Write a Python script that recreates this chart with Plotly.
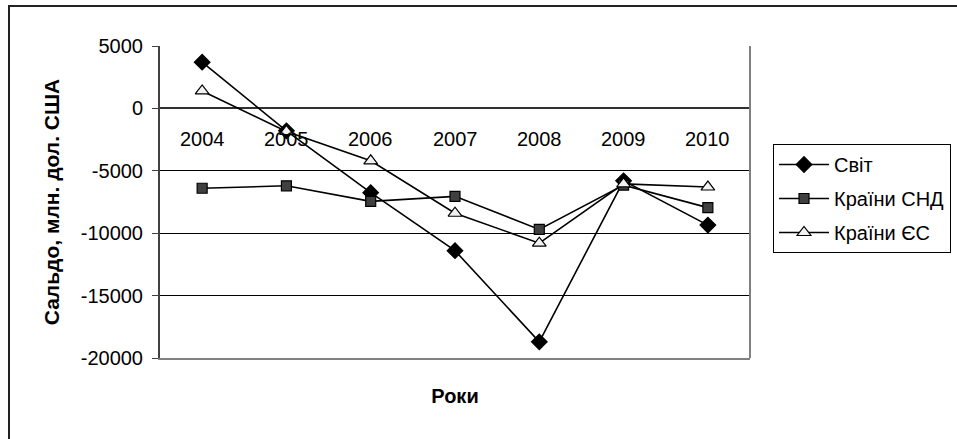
import plotly.graph_objects as go

years = ["2004", "2005", "2006", "2007", "2008", "2009", "2010"]
svit = [3700, -1800, -6750, -11400, -18700, -5800, -9350]
snd = [-6400, -6200, -7450, -7050, -9700, -6150, -7950]
es = [1400, -1850, -4200, -8400, -10800, -6050, -6300]

y_tickvals = [5000, 0, -5000, -10000, -15000, -20000]
y_ticktext = ["5000", "0", "-5000", "-10000", "-15000", "-20000"]

names = ["Світ", "Країни СНД", "Країни ЄС"]
series = [svit, snd, es]
symbols = ["diamond", "square", "triangle-up"]
fills = ["#000000", "#404040", "#f2f2f2"]
sizes = [12, 10, 12]

W, H = 957, 439
L, R, T, B = 160, 750, 46, 358
FONT = "Liberation Sans, Arial, sans-serif"

fig = go.Figure()
for i, (nm, ys) in enumerate(zip(names, series)):
    fig.add_trace(go.Scatter(
        x=years, y=ys, name=nm, mode="lines+markers",
        line=dict(color="#000000", width=1.6),
        marker=dict(symbol=symbols[i], size=sizes[i], color=fills[i],
                    line=dict(color="#000000", width=1.2)),
        legendgroup=nm,
    ))

for i, yr in enumerate(years):
    fig.add_annotation(x=i, y=0, xref="x", yref="y", text=yr, showarrow=False,
                       yanchor="middle", yshift=-31,
                       font=dict(family=FONT, size=20, color="#000000"))

def px_to_paper_x(px):
    return (px - L) / (R - L)

def px_to_paper_y(py):
    return (B - py) / (B - T)

# outer chart frame
fig.add_shape(type="rect", xref="paper", yref="paper",
              x0=px_to_paper_x(9), x1=px_to_paper_x(975),
              y0=px_to_paper_y(460), y1=px_to_paper_y(6),
              line=dict(color="#222222", width=2), fillcolor="rgba(0,0,0,0)", layer="above")
# plot-area right border
fig.add_shape(type="line", xref="paper", yref="paper", x0=1, x1=1, y0=0, y1=1,
              line=dict(color="#808080", width=2))

fig.update_layout(
    width=W, height=H,
    margin=dict(l=L, r=W - R, t=T, b=H - B, autoexpand=False),
    paper_bgcolor="white", plot_bgcolor="white",
    font=dict(family=FONT, size=20, color="#000000"),
    showlegend=True,
    legend=dict(x=px_to_paper_x(773), y=px_to_paper_y(144), xanchor="left", yanchor="top",
                bordercolor="#000000", borderwidth=1, bgcolor="white",
                font=dict(family=FONT, size=20, color="#000000"),
                tracegroupgap=5, itemwidth=50),
)
fig.update_xaxes(
    type="category", range=[-0.5, 6.5], showticklabels=False, showgrid=False,
    showline=True, linecolor="#808080", linewidth=2, ticks="",
    title=dict(text="<b>Роки</b>", font=dict(family=FONT, size=20), standoff=30),
    zeroline=False, automargin=False,
)
fig.update_yaxes(
    range=[-20000, 5000], tickmode="array", tickvals=y_tickvals, ticktext=y_ticktext,
    showgrid=True, gridcolor="#000000", gridwidth=1,
    showline=True, linecolor="#404040", linewidth=2,
    ticks="outside", ticklen=6, tickcolor="#404040", ticklabelstandoff=5,
    zeroline=True, zerolinecolor="#303030", zerolinewidth=1.5,
    tickfont=dict(family=FONT, size=20),
    title=dict(text="<b>Сальдо, млн. дол. США</b>", font=dict(family=FONT, size=21), standoff=15),
    automargin=False,
)

fig.write_html("out.html", config={"displayModeBar": False},
               post_script="document.body.style.margin='0';document.body.style.padding='0';")
